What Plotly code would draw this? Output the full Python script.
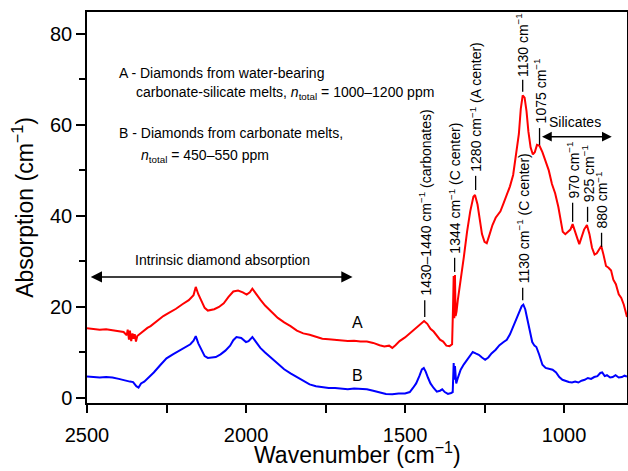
import plotly.graph_objects as go

# ---------------- data ----------------
wn_A = [2500, 2480, 2460, 2440, 2420, 2400, 2385, 2375, 2372, 2368, 2365, 2361, 2357, 2354, 2350,
        2346, 2342, 2335, 2325, 2310, 2300, 2280, 2260, 2240, 2220, 2200, 2180, 2165, 2158, 2150,
        2140, 2130, 2120, 2110, 2100, 2085, 2070, 2055, 2040, 2025, 2010, 1998, 1988, 1980, 1970,
        1955, 1940, 1920, 1900, 1880, 1860, 1840, 1820, 1800, 1780, 1760, 1740, 1720, 1700, 1680,
        1660, 1640, 1620, 1600, 1580, 1565, 1550, 1540, 1530, 1517, 1500, 1485, 1470, 1460, 1450,
        1440, 1430, 1420, 1410, 1400, 1390, 1380, 1370, 1360, 1352, 1349, 1347, 1345, 1343, 1341,
        1338, 1334, 1325, 1315, 1305, 1295, 1285, 1280, 1272, 1265, 1258, 1250, 1243, 1236, 1225,
        1215, 1200, 1190, 1180, 1170, 1160, 1150, 1142, 1136, 1130, 1124, 1118, 1112, 1105, 1098,
        1092, 1085, 1077, 1068, 1058, 1048, 1038, 1028, 1018, 1010, 1004, 996, 988, 980, 973,
        966, 958, 952, 945, 937, 928, 920, 912, 904, 897, 890, 883, 876, 868, 860,
        852, 845, 837, 828, 820, 812, 802]
abs_A = [15.3, 15.2, 15.0, 15.1, 14.9, 14.6, 14.5, 13.8, 15.0, 12.8, 14.8, 12.5, 14.2, 13.0, 14.0,
         12.4, 13.6, 14.0, 14.6, 15.4, 15.8, 17.0, 18.0, 18.8, 19.6, 20.6, 21.5, 22.6, 24.4, 22.8,
         21.2, 19.8, 19.2, 19.3, 19.5, 20.0, 20.8, 22.2, 23.4, 23.6, 23.2, 22.7, 23.2, 24.0, 23.0,
         21.6, 20.3, 19.0, 17.6, 16.6, 15.8, 14.8, 14.2, 13.9, 13.4, 13.0, 12.9, 12.8, 12.6, 12.5,
         12.6, 12.4, 12.4, 12.1, 11.6, 11.3, 11.5, 11.0, 11.6, 12.5, 13.3, 14.2, 15.0, 15.8, 16.4,
         16.9, 16.3, 15.2, 14.6, 13.6, 12.8, 12.4, 11.5, 11.4, 11.8, 20.0, 26.8, 17.5, 27.0, 18.0,
         19.0, 21.5, 25.5, 31.0, 36.5, 41.0, 44.2, 44.6, 42.5, 39.5, 36.0, 34.3, 34.0, 35.5, 38.0,
         39.6, 41.0, 42.8, 44.5, 46.5, 49.0, 53.5, 58.0, 63.5, 66.5, 66.0, 63.0, 58.5, 55.0, 53.5,
         54.0, 55.6, 55.4, 54.0, 52.0, 50.0, 47.0, 45.0, 42.0, 39.0, 36.5, 36.0, 36.6, 37.0, 38.2,
         36.5, 35.0, 33.8, 35.5, 37.0, 38.0, 36.0, 33.0, 31.5, 31.8, 32.5, 33.4, 31.5, 29.0, 28.6,
         28.0, 26.0, 25.0, 22.8, 22.0, 20.5, 17.8]

wn_B = [2500, 2480, 2460, 2440, 2420, 2400, 2380, 2365, 2355, 2345, 2338, 2330, 2320, 2305, 2290,
        2270, 2250, 2230, 2210, 2190, 2175, 2165, 2158, 2150, 2140, 2130, 2120, 2105, 2095, 2080,
        2065, 2050, 2040, 2030, 2015, 2000, 1992, 1980, 1970, 1955, 1940, 1920, 1900, 1880, 1860,
        1840, 1820, 1800, 1780, 1760, 1740, 1720, 1700, 1680, 1660, 1640, 1620, 1600, 1580, 1560,
        1540, 1520, 1500, 1485, 1475, 1465, 1455, 1447, 1441, 1435, 1428, 1420, 1410, 1400, 1390,
        1383, 1375, 1365, 1355, 1350, 1347, 1345, 1343, 1339, 1333, 1325, 1315, 1305, 1295, 1287,
        1278, 1268, 1258, 1248, 1238, 1228, 1215, 1203, 1190, 1180, 1170, 1160, 1150, 1140, 1133,
        1128, 1122, 1115, 1108, 1100, 1093, 1087, 1078, 1068, 1058, 1045, 1036, 1025, 1015, 1005,
        995, 985, 975, 965, 955, 945, 935, 925, 915, 905, 895, 886, 880, 872, 865,
        855, 847, 838, 828, 818, 810, 802]
abs_B = [4.7, 4.6, 4.5, 4.6, 4.5, 4.2, 3.8, 3.6, 3.5, 2.6, 2.3, 3.2, 3.6, 4.5, 5.6,
         7.2, 8.7, 9.6, 10.4, 11.2, 11.8, 12.6, 13.6, 12.0, 10.5, 9.2, 8.8, 8.9, 9.0, 9.6,
         10.4, 11.5, 12.7, 13.4, 13.2, 12.3, 12.5, 13.4, 12.5, 11.0, 10.0, 8.8, 7.5, 6.3, 5.4,
         4.6, 3.8, 3.0, 2.6, 2.4, 2.2, 2.2, 2.0, 1.9, 2.1, 2.0, 1.9, 1.6, 1.2, 0.9,
         0.8, 1.0, 1.0, 1.3, 2.2, 3.2, 4.8, 6.3, 6.6, 5.8, 4.5, 3.2, 2.2, 1.4, 1.6,
         1.9, 1.3, 0.9, 1.1, 1.3, 7.7, 4.0, 7.0, 3.2, 4.6, 6.2, 7.4, 8.4, 9.3, 10.1,
         9.8, 9.5, 8.9, 8.4, 8.9, 9.8, 10.6, 11.6, 12.3, 12.8, 14.0, 15.6, 17.2, 18.8, 20.2,
         20.5, 19.5, 17.2, 14.5, 12.3, 11.5, 11.2, 9.5, 7.3, 6.6, 6.3, 6.2, 5.6, 4.6, 4.0,
         3.7, 3.5, 3.4, 3.6, 3.4, 3.8, 4.0, 4.4, 4.2, 4.6, 4.8, 5.5, 5.6, 4.8, 5.0,
         4.5, 4.6, 5.0, 4.5, 4.6, 4.9, 4.7]

x_tickvals = [2500, 2000, 1500, 1000]
x_minor_tickvals = [2250, 1750, 1250]
y_tickvals = [0, 20, 40, 60, 80]
y_minor_tickvals = [10, 30, 50, 70]

x_title = "Wavenumber (cm<sup>−1</sup>)"
y_title = "Absorption (cm<sup>−1</sup>)"

peak_wn = [1438, 1344, 1278, 1130, 1077, 973, 926, 882, 1130]
peak_text = ["1430–1440 cm<sup>−1</sup> (carbonates)",
             "1344 cm<sup>−1</sup> (C center)",
             "1280 cm<sup>−1</sup> (A center)",
             "1130 cm<sup>−1</sup>",
             "1075 cm<sup>−1</sup>",
             "970 cm<sup>−1</sup>",
             "925 cm<sup>−1</sup>",
             "880 cm<sup>−1</sup>",
             "1130 cm<sup>−1</sup> (C center)"]

FONT = "Liberation Sans, Arial, sans-serif"

fig = go.Figure()
fig.add_trace(go.Scatter(x=wn_A, y=abs_A, mode="lines",
                         line=dict(color="#ff0000", width=2), showlegend=False))
fig.add_trace(go.Scatter(x=wn_B, y=abs_B, mode="lines",
                         line=dict(color="#0000ff", width=2), showlegend=False))

# label tick segments (bottom, top) and text base, in data units
label_geom = [(17.8, 21.5, 22.0), (27.7, 30.8, 31.3), (45.7, 48.8, 49.3), (67.3, 69.9, 70.0),
              (55.6, 59.3, 59.9), (38.7, 42.9, 43.4), (38.7, 42.0, 42.6), (33.2, 36.3, 36.8),
              (21.5, 24.2, 24.7)]
shapes = []
annotations = []
for wn, txt, (y0, y1, yt) in zip(peak_wn, peak_text, label_geom):
    shapes.append(dict(type="line", xref="x", yref="y", x0=wn, x1=wn, y0=y0, y1=y1,
                       line=dict(color="black", width=1.3)))
    annotations.append(dict(x=wn, y=yt, xref="x", yref="y", text=txt, showarrow=False,
                            textangle=-90, xanchor="center", yanchor="bottom",
                            font=dict(family=FONT, size=14, color="black")))

# legend-like description text
desc = [(2407, 71.4, "A - Diamonds from water-bearing"),
        (2352, 66.9, "carbonate-silicate melts, <i>n</i><sub>total</sub> = 1000–1200 ppm"),
        (2407, 58.2, "B - Diamonds from carbonate melts,"),
        (2336, 53.2, "<i>n</i><sub>total</sub> = 450–550 ppm")]
for xx, yy, t in desc:
    annotations.append(dict(x=xx, y=yy, xref="x", yref="y", text=t, showarrow=False,
                            xanchor="left", yanchor="middle",
                            font=dict(family=FONT, size=14, color="black")))

annotations.append(dict(x=2073, y=30.4, xref="x", yref="y", text="Intrinsic diamond absorption",
                        showarrow=False, xanchor="center", yanchor="middle",
                        font=dict(family=FONT, size=14, color="black")))
annotations.append(dict(x=1665, y=26.6, ax=2493, ay=26.6, xref="x", yref="y", axref="x", ayref="y",
                        text="", showarrow=True, arrowside="end+start", arrowhead=2,
                        arrowsize=1.5, arrowwidth=1.5, arrowcolor="black"))
annotations.append(dict(x=850, y=57.4, ax=1074, ay=57.4, xref="x", yref="y", axref="x", ayref="y",
                        text="", showarrow=True, arrowside="end+start", arrowhead=2,
                        arrowsize=1.3, arrowwidth=1.5, arrowcolor="black"))
annotations.append(dict(x=965, y=60.6, xref="x", yref="y", text="Silicates", showarrow=False,
                        xanchor="center", yanchor="middle",
                        font=dict(family=FONT, size=14, color="black")))
annotations.append(dict(x=1649, y=16.5, xref="x", yref="y", text="A", showarrow=False,
                        font=dict(family=FONT, size=16, color="black")))
annotations.append(dict(x=1649, y=4.9, xref="x", yref="y", text="B", showarrow=False,
                        font=dict(family=FONT, size=16, color="black")))
# x-axis title placed just below the tick labels, box bottom at the page edge
annotations.append(dict(x=0.5, y=-0.1714, xref="paper", yref="paper", text=x_title,
                        showarrow=False, xanchor="center", yanchor="bottom",
                        font=dict(family=FONT, size=23, color="black")))

fig.update_layout(
    width=628, height=471,
    margin=dict(l=87, r=1, t=12, b=68, autoexpand=False),
    paper_bgcolor="white", plot_bgcolor="white",
    font=dict(family=FONT, color="black"),
    shapes=shapes, annotations=annotations,
    xaxis=dict(range=[2500, 802], tickvals=x_tickvals, ticks="outside", ticklen=8, tickwidth=1.5,
               tickcolor="black", showline=True, linecolor="black", linewidth=1.5, mirror=True,
               showgrid=False, zeroline=False, tickfont=dict(size=20, family=FONT),
               ticklabelstandoff=5, automargin=False,
               minor=dict(tickvals=x_minor_tickvals, ticks="outside", ticklen=8, tickwidth=1.5,
                          tickcolor="black", showgrid=False)),
    yaxis=dict(range=[-1.1, 84.8], tickvals=y_tickvals, ticks="outside", ticklen=9, tickwidth=1.5,
               tickcolor="black", showline=True, linecolor="black", linewidth=1.5, mirror=True,
               showgrid=False, zeroline=False, tickfont=dict(size=20, family=FONT),
               automargin=False,
               minor=dict(tickvals=y_minor_tickvals, ticks="outside", ticklen=6, tickwidth=1.5,
                          tickcolor="black", showgrid=False),
               title=dict(text=y_title, font=dict(size=23, family=FONT), standoff=10)),
)

fig.write_html("out.html", config={"displayModeBar": False},
               post_script="document.body.style.margin='0';document.body.style.overflow='hidden';")
